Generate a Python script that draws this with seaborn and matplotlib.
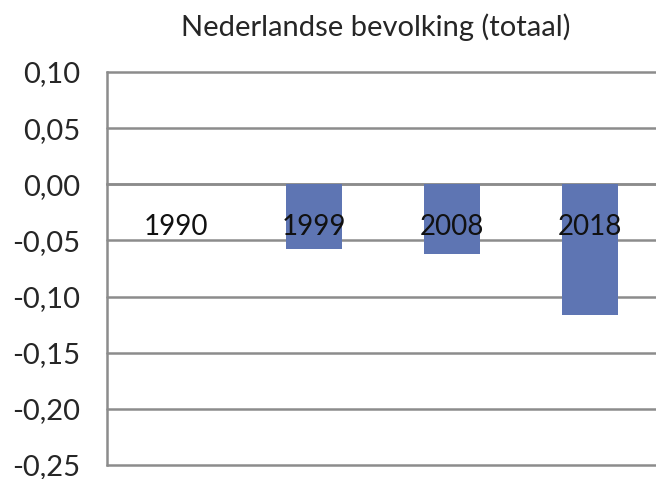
import matplotlib
matplotlib.use("Agg")
import matplotlib.pyplot as plt
from matplotlib.ticker import FixedLocator, FuncFormatter
import seaborn as sns
import pandas as pd

# Data
years = ["1990", "1999", "2008", "2018"]
values = [0.0, -0.058, -0.062, -0.116]
y_ticks = [0.10, 0.05, 0.00, -0.05, -0.10, -0.15, -0.20, -0.25]
title = "Nederlandse bevolking (totaal)"

sns.set_theme(style="white")
plt.rcParams["font.family"] = ["Lato", "DejaVu Sans"]

W, H = 656, 479
fig = plt.figure(figsize=(W / 100, H / 100), dpi=100)
ax = fig.add_axes([107 / W, 14 / H, 552 / W, (465 - 72) / H])

df = pd.DataFrame({"jaar": years, "waarde": values})
sns.barplot(data=df, x="jaar", y="waarde", color="#5E75B3", width=0.4,
            saturation=1, linewidth=0, ax=ax, zorder=3)

grid_col = "#8C8C8C"
ax.set_ylim(min(y_ticks), max(y_ticks))
ax.set_xlim(-0.5, len(years) - 0.5)
ax.yaxis.set_major_locator(FixedLocator(y_ticks))
ax.yaxis.set_major_formatter(FuncFormatter(lambda v, p: f"{v:.2f}".replace(".", ",").replace("−", "-")))
ax.grid(axis="y", color=grid_col, linewidth=1.8, zorder=1)
for gl in ax.get_ygridlines():
    gl.set_clip_on(False)
ax.set_axisbelow(True)

# Spines: left axis and category axis crossing at zero
for s in ("top", "right"):
    ax.spines[s].set_visible(False)
ax.spines["left"].set_color(grid_col)
ax.spines["left"].set_linewidth(1.8)
ax.spines["bottom"].set_position(("data", 0))
ax.spines["bottom"].set_color(grid_col)
ax.spines["bottom"].set_linewidth(1.8)
ax.spines["bottom"].set_zorder(2)

ax.tick_params(axis="y", which="major", length=6.5, width=1.8, color=grid_col,
               labelsize=21, labelcolor="#262626", pad=13, direction="out")
# Category boundaries as ticks; labels drawn on top of the bars
ax.set_xticks([i + 0.5 for i in range(len(years))])
ax.set_xticklabels([])
ax.tick_params(axis="x", which="major", length=6, width=1.8, color=grid_col,
               direction="out")
for i, yr in enumerate(years):
    ax.annotate(yr, xy=(i, 0), xycoords="data", xytext=(0, -36.5),
                textcoords="offset points", ha="center", va="baseline",
                fontsize=20, color="#111111", zorder=6)
ax.set_xlabel("")
ax.set_ylabel("")

fig.text(376 / W, 1 - 27 / H, title, ha="center", va="center",
         fontsize=21, color="#262626")

fig.savefig("out.png", dpi=100)
